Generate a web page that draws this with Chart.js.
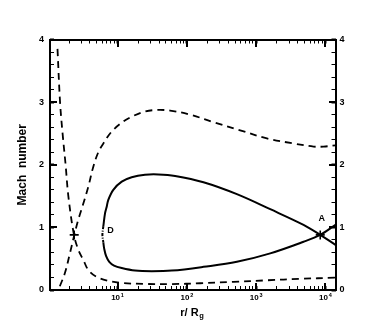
<!DOCTYPE html>
<html><head><meta charset="utf-8">
<script src="https://cdn.jsdelivr.net/npm/chart.js@4/dist/chart.umd.min.js"></script>
<style>html,body{margin:0;padding:0;background:#fff;}#wrap{width:382px;height:327px;}</style>
</head><body><div id="wrap"><canvas id="c" width="382" height="327"></canvas></div>
<script>
// ---- data ----
const xMajorTicks = [10, 100, 1000, 10000];
const xMinorTicks = [2, 3, 4, 5, 6, 7, 8, 9, 20, 30, 40, 50, 60, 70, 80, 90,
  200, 300, 400, 500, 600, 700, 800, 900, 2000, 3000, 4000, 5000, 6000, 7000, 8000, 9000];
const xTickBase = ['10', '10', '10', '10'];
const xTickExp = ['1', '2', '3', '4'];
const yMajorTicks = [0, 1, 2, 3, 4];
const yMinorTicks = [0.2, 0.4, 0.6, 0.8, 1.2, 1.4, 1.6, 1.8, 2.2, 2.4, 2.6, 2.8, 3.2, 3.4, 3.6, 3.8];

// dashed curve falling from the top-left, then the low branch
const fallX = [1.36, 1.48, 1.61, 1.78, 1.95, 2.35, 2.72, 3.21, 3.79, 5.0, 7.8, 11.5, 24.9, 60.7, 156, 471, 1432, 4340, 14000];
const fallY = [3.85, 3.0, 2.5, 2.0, 1.5, 0.88, 0.64, 0.48, 0.32, 0.21, 0.14, 0.112, 0.097, 0.095, 0.108, 0.13, 0.155, 0.178, 0.197];

// dashed curve rising from the bottom-left, then the high branch
const riseX = [1.47, 1.74, 2.06, 2.38, 2.71, 3.21, 3.79, 4.47, 5.28, 6.24, 8.24, 12.1, 16.9, 24.9, 36.8, 57.4, 112, 242, 589, 1432, 3470, 6750, 9410, 14000];
const riseY = [0.06, 0.27, 0.59, 0.88, 1.12, 1.38, 1.65, 1.97, 2.2, 2.34, 2.53, 2.69, 2.78, 2.85, 2.875, 2.865, 2.8, 2.68, 2.55, 2.42, 2.34, 2.29, 2.29, 2.31];

// solid loop, upper branch
const upperX = [6.24, 6.59, 6.98, 7.36, 8.69, 11.5, 16.0, 24.9, 38.9, 67.8, 174, 528, 1600, 4840, 8430, 14000];
const upperY = [1.02, 1.22, 1.33, 1.44, 1.60, 1.73, 1.80, 1.84, 1.845, 1.82, 1.72, 1.53, 1.29, 1.04, 0.88, 0.72];

// solid loop, lower branch
const lowerX = [6.24, 6.42, 6.85, 7.6, 8.9, 11.5, 17.9, 31.2, 60.7, 174, 528, 1600, 4840, 8430, 14000];
const lowerY = [0.76, 0.66, 0.54, 0.45, 0.39, 0.35, 0.31, 0.30, 0.31, 0.37, 0.45, 0.585, 0.77, 0.88, 1.04];

// dash-dot join at D
const joinX = [6.24, 6.05, 6.24];
const joinY = [1.02, 0.88, 0.76];

// sonic points
const critX = [2.37, 8430];
const critY = [0.88, 0.88];

// point labels
const labelText = ['D', 'A'];
const labelX = [7.92, 8870];
const labelY = [0.95, 1.14];

const pts = (xv, yv) => xv.map((x, i) => ({x: x, y: yv[i]}));

const FAMILY = '"Liberation Sans", Arial, Helvetica, sans-serif';

const xAllTicks = () => xMajorTicks.map(v => ({value: v, major: true}))
  .concat(xMinorTicks.map(v => ({value: v, major: false})));
const yAllTicks = () => yMajorTicks.map(v => ({value: v, major: true}))
  .concat(yMinorTicks.map(v => ({value: v, major: false})));

// inward tick marks drawn by the axes themselves (negative tick length)
const tickGrid = {
  display: true, drawOnChartArea: false, drawTicks: true, tickLength: -4,
  tickColor: '#000', tickWidth: c => (c.tick && c.tick.major) ? 2 : 1
};

const framePlugin = {
  id: 'frame',
  afterDraw(chart) {
    const ctx = chart.ctx;
    const a = chart.chartArea;
    const sx = chart.scales.x, sy = chart.scales.y;
    const L = Math.round(a.left), R = Math.round(a.right);
    const T = Math.round(a.top), B = Math.round(a.bottom);
    ctx.save();
    ctx.fillStyle = '#000';
    // longer major ticks
    yMajorTicks.forEach(v => {
      const p = Math.round(sy.getPixelForValue(v) - 1);
      ctx.fillRect(L, p, 7, 2);
      ctx.fillRect(R - 7, p, 7, 2);
    });
    xMajorTicks.forEach(v => {
      const p = Math.round(sx.getPixelForValue(v) - 1);
      ctx.fillRect(p, B - 7, 2, 7);
      ctx.fillRect(p, T, 2, 7);
    });
    // frame
    ctx.fillRect(L - 1, T - 1, R - L + 2, 2);
    ctx.fillRect(L - 1, B - 1, R - L + 2, 2);
    ctx.fillRect(L - 1, T - 1, 2, B - T + 2);
    ctx.fillRect(R - 1, T - 1, 2, B - T + 2);
    // x tick labels with superscripts
    ctx.textBaseline = 'alphabetic';
    ctx.textAlign = 'left';
    xMajorTicks.forEach((v, i) => {
      const p = sx.getPixelForValue(v);
      ctx.font = 'bold 8px ' + FAMILY;
      const wb = ctx.measureText(xTickBase[i]).width;
      ctx.font = 'bold 5.5px ' + FAMILY;
      const we = ctx.measureText(xTickExp[i]).width;
      const x0 = p - (wb + 0.8 + we) / 2;
      ctx.font = 'bold 8px ' + FAMILY;
      ctx.fillText(xTickBase[i], x0, 300);
      ctx.font = 'bold 5.5px ' + FAMILY;
      ctx.fillText(xTickExp[i], x0 + wb + 0.8, 297);
    });
    // point labels
    ctx.font = 'bold 9px ' + FAMILY;
    ctx.textAlign = 'center';
    ctx.textBaseline = 'middle';
    labelText.forEach((t, i) => {
      ctx.fillText(t, sx.getPixelForValue(labelX[i]), sy.getPixelForValue(labelY[i]));
    });
    // x title with subscript
    ctx.textAlign = 'left';
    ctx.textBaseline = 'alphabetic';
    ctx.font = 'bold 11px ' + FAMILY;
    const main = 'r/ R';
    const w1 = ctx.measureText(main).width;
    ctx.font = 'bold 7.5px ' + FAMILY;
    const w2 = ctx.measureText('g').width;
    const cx = (a.left + a.right) / 2 - 1;
    const tx = cx - (w1 + w2) / 2;
    ctx.font = 'bold 11px ' + FAMILY;
    ctx.fillText(main, tx, 315.5);
    ctx.font = 'bold 7.5px ' + FAMILY;
    ctx.fillText('g', tx + w1 + 0.5, 318);
    ctx.restore();
  }
};

const lineDs = (data, dash, width) => ({
  data: data, showLine: true, borderColor: '#000', backgroundColor: '#000',
  borderWidth: width, borderDash: dash, pointRadius: 0, tension: 0.35, fill: false
});

new Chart(document.getElementById('c'), {
  type: 'scatter',
  data: {
    datasets: [
      lineDs(pts(fallX, fallY), [7, 5], 1.8),
      lineDs(pts(riseX, riseY), [7, 5], 1.8),
      lineDs(pts(upperX, upperY), [], 2),
      lineDs(pts(lowerX, lowerY), [], 2),
      lineDs(pts(joinX, joinY), [3, 1.5, 1, 1.5], 2),
      {data: pts(critX, critY), showLine: false, pointStyle: 'cross', pointRadius: 4.5,
       borderColor: '#000', borderWidth: 1.6, backgroundColor: '#000'}
    ]
  },
  options: {
    responsive: false, animation: false,
    layout: {padding: {top: 0, left: 0, right: 0, bottom: 0}},
    plugins: {legend: {display: false}, tooltip: {enabled: false}},
    scales: {
      x: {
        type: 'logarithmic', position: 'bottom', min: 1.06, max: 14000,
        afterBuildTicks: s => { s.ticks = xAllTicks(); },
        afterFit: s => { s.height = 37; },
        grid: tickGrid, border: {display: false},
        ticks: {display: false, autoSkip: false}
      },
      xTop: {
        type: 'logarithmic', position: 'top', min: 1.06, max: 14000,
        afterBuildTicks: s => { s.ticks = xAllTicks(); },
        afterFit: s => { s.height = 39.5; },
        grid: tickGrid, border: {display: false},
        ticks: {display: false, autoSkip: false}
      },
      y: {
        type: 'linear', position: 'left', min: 0, max: 4,
        afterBuildTicks: s => { s.ticks = yAllTicks(); },
        afterFit: s => { s.width = 50; },
        grid: tickGrid, border: {display: false},
        ticks: {padding: 10, autoSkip: false, color: '#000',
          font: {family: FAMILY, size: 9, weight: 'bold'},
          callback: v => Number.isInteger(v) ? String(v) : ''},
        title: {display: true, text: 'Mach  number', color: '#000',
          font: {family: FAMILY, size: 12, weight: 'bold'}, padding: {top: 15.5, bottom: 0}}
      },
      y2: {
        type: 'linear', position: 'right', min: 0, max: 4,
        afterBuildTicks: s => { s.ticks = yAllTicks(); },
        afterFit: s => { s.width = 46.5; },
        grid: tickGrid, border: {display: false},
        ticks: {padding: 8, autoSkip: false, color: '#000',
          font: {family: FAMILY, size: 9, weight: 'bold'},
          callback: v => Number.isInteger(v) ? String(v) : ''}
      }
    }
  },
  plugins: [framePlugin]
});
</script></body></html>
